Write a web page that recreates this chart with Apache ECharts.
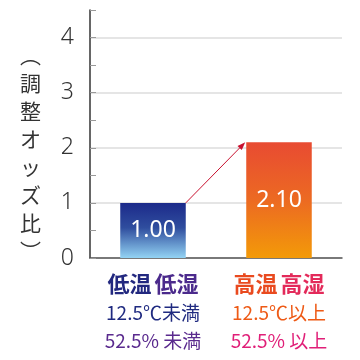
<!DOCTYPE html>
<html><head><meta charset="utf-8">
<script src="https://cdn.jsdelivr.net/npm/echarts@6/dist/echarts.min.js"></script>
<style>html,body{margin:0;padding:0;background:#fff}#c{width:360px;height:360px}</style>
</head><body><div id="c"></div>
<script>
const categories = ['低温低湿', '高温高湿'];
const tempLabels = ['12.5℃未満', '12.5℃以上'];
const humLabels = ['52.5% 未満', '52.5% 以上'];
const values = [1.00, 2.10];
const yTicks = [0, 1, 2, 3, 4];
const yName = '︵調整オッズ比︶';

const CJK = '"Noto Sans CJK JP", "Noto Sans", sans-serif';
const NUM = '"Noto Sans", "Open Sans", sans-serif';
const BAR_RATIO = 0.52;

const chart = echarts.init(document.getElementById('c'));
const option = {
  animation: false,
  grid: { left: 90, right: 18, top: 10, bottom: 102, containLabel: false, outerBoundsMode: 'none' },
  graphic: [{
    type: 'text', left: 20, top: 41,
    style: { text: yName.split('').join('\n'), font: '21px ' + CJK, fill: '#333', lineHeight: 28, align: 'center' }
  }],
  xAxis: {
    type: 'category', data: categories,
    axisLine: { lineStyle: { color: '#555', width: 1.5 } },
    axisTick: { show: false },
    axisLabel: {
      margin: 12, interval: 0,
      formatter: (v, i) => `{p${i}a|${v.slice(0,2)}}{gap|}{p${i}b|${v.slice(2)}}\n{t${i}|${tempLabels[i]}}\n{h${i}|${humLabels[i]}}`,
      rich: {
        gap: { width: 3 },
        p0a: { color: '#22287f', fontSize: 22, fontFamily: CJK, fontWeight: 'bold', lineHeight: 28 },
        p0b: { color: '#4b2a8c', fontSize: 22, fontFamily: CJK, fontWeight: 'bold', lineHeight: 28 },
        p1a: { color: '#e94a1f', fontSize: 22, fontFamily: CJK, fontWeight: 'bold', lineHeight: 28 },
        p1b: { color: '#e32a5a', fontSize: 22, fontFamily: CJK, fontWeight: 'bold', lineHeight: 28 },
        t0: { color: '#1f2a80', fontSize: 19, fontFamily: CJK, lineHeight: 29 },
        h0: { color: '#5a2a8e', fontSize: 19, fontFamily: CJK, lineHeight: 27 },
        t1: { color: '#ee5a16', fontSize: 19, fontFamily: CJK, lineHeight: 29 },
        h1: { color: '#e01f78', fontSize: 19, fontFamily: CJK, lineHeight: 27 }
      }
    }
  },
  yAxis: {
    type: 'value', min: 0, max: 4.5, interval: 0.5,
    axisLine: { show: true, lineStyle: { color: '#333', width: 1.5 } },
    axisTick: { show: true, inside: true, length: 6, lineStyle: { color: '#999' } },
    axisLabel: {
      margin: 16, color: '#333', fontSize: 23, fontFamily: NUM, fontWeight: 300,
      formatter: v => (yTicks.indexOf(v) >= 0 ? String(v) : '')
    },
    splitLine: { show: true, showMaxLine: false, lineStyle: { color: ['#dcdcdc', 'rgba(0,0,0,0)'], width: 1.5 } }
  },
  series: [{
    type: 'bar', data: values, barWidth: (BAR_RATIO * 100) + '%', z: 2,
    itemStyle: {
      color: (p) => p.dataIndex === 0
        ? new echarts.graphic.LinearGradient(0, 0, 0, 1, [
            { offset: 0, color: '#1c2a8a' }, { offset: 0.45, color: '#2f4d9e' }, { offset: 1, color: '#93d3f3' }])
        : new echarts.graphic.LinearGradient(0, 0, 0, 1, [
            { offset: 0, color: '#e84b32' }, { offset: 0.5, color: '#ec6a22' }, { offset: 1, color: '#f39a08' }])
    },
    label: {
      show: true, position: 'inside', color: '#fff', fontSize: 23, fontFamily: NUM,
      formatter: p => p.value.toFixed(2)
    }
  }, {
    type: 'custom', z: 5, silent: true,
    data: [[0, values[0]]],
    renderItem: (params, api) => {
      const p0 = api.coord([0, values[0]]);
      const p1 = api.coord([1, values[1]]);
      const half = api.size([1, 0])[0] * BAR_RATIO / 2;
      const x0 = p0[0] + half, y0 = p0[1];
      const x1 = p1[0] - half - 1, y1 = p1[1];
      const ang = Math.atan2(y1 - y0, x1 - x0);
      const L = 8, W = 3;
      const bx = x1 - L * Math.cos(ang), by = y1 - L * Math.sin(ang);
      const nx = -Math.sin(ang) * W, ny = Math.cos(ang) * W;
      return { type: 'group', children: [
        { type: 'line', shape: { x1: x0, y1: y0, x2: bx, y2: by }, style: { stroke: '#c8102e', lineWidth: 1 } },
        { type: 'polygon', shape: { points: [[x1, y1], [bx + nx, by + ny], [bx - nx, by - ny]] }, style: { fill: '#c8102e' } }
      ]};
    }
  }]
};
chart.setOption(option);
</script></body></html>
